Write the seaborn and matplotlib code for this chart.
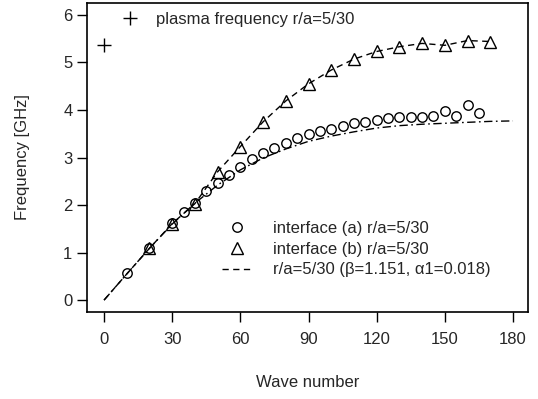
import matplotlib
matplotlib.use("Agg")
import matplotlib.pyplot as plt
import seaborn as sns
import numpy as np

# ---- data ----
wave_a = [10, 20, 30, 35, 40, 45, 50, 55, 60, 65, 70, 75, 80, 85, 90, 95, 100,
          105, 110, 115, 120, 125, 130, 135, 140, 145, 150, 155, 160, 165]
freq_a = [0.56, 1.10, 1.62, 1.85, 2.05, 2.30, 2.47, 2.63, 2.81, 2.96, 3.10, 3.21,
          3.31, 3.40, 3.49, 3.56, 3.61, 3.66, 3.72, 3.75, 3.79, 3.84, 3.85, 3.86,
          3.86, 3.87, 3.97, 3.88, 4.10, 3.94]

wave_b = [20, 30, 40, 50, 60, 70, 80, 90, 100, 110, 120, 130, 140, 150, 160, 170]
freq_b = [1.09, 1.61, 2.03, 2.70, 3.23, 3.75, 4.19, 4.55, 4.84, 5.07, 5.23, 5.33,
          5.40, 5.36, 5.46, 5.44]

fit_b_wave = [0, 10, 20, 30, 40, 50, 60, 70, 80, 90, 100, 110, 120, 130, 140, 150, 160, 170]
fit_b_freq = [0.0, 0.55, 1.09, 1.61, 2.03, 2.70, 3.23, 3.75, 4.19, 4.55, 4.84, 5.07,
              5.23, 5.33, 5.40, 5.36, 5.46, 5.44]

fit_a_wave = [0, 10, 20, 30, 40, 50, 60, 70, 80, 90, 100, 110, 120, 130, 140, 150, 160, 170, 180]
fit_a_freq = [0.0, 0.55, 1.09, 1.60, 2.04, 2.42, 2.74, 2.99, 3.18, 3.34, 3.45, 3.54,
              3.62, 3.67, 3.70, 3.72, 3.74, 3.76, 3.77]

plasma_wave = [0]
plasma_freq = [5.37]

x_ticks = [0, 30, 60, 90, 120, 150, 180]
y_ticks = [0, 1, 2, 3, 4, 5, 6]

lab_plasma = "plasma frequency r/a=5/30"
lab_a = "interface (a) r/a=5/30"
lab_b = "interface (b) r/a=5/30"
lab_fit = "r/a=5/30 (\u03b2=1.151, \u03b11=0.018)"

# ---- style ----
sns.set_style("ticks")
plt.rcParams["font.family"] = ["Liberation Sans", "DejaVu Sans"]
plt.rcParams["font.size"] = 12

fig = plt.figure(figsize=(5.38, 3.99), dpi=100)
ax = fig.add_axes([87 / 538, 87 / 399, 441 / 538, 309 / 399])

# lines
sns.lineplot(x=fit_a_wave, y=fit_a_freq, ax=ax, color="black", linewidth=1.0,
             errorbar=None)
ax.lines[-1].set_dashes([6, 2.5, 1.2, 2.5])
sns.lineplot(x=fit_b_wave, y=fit_b_freq, ax=ax, color="black", linewidth=1.0,
             errorbar=None, label=lab_fit)
fit_line = ax.lines[-1]
fit_line.set_dashes([4.5, 3.2])

# markers
sns.lineplot(x=wave_a, y=freq_a, ax=ax, color="black", linestyle="none",
             marker="o", markersize=6.8, markerfacecolor="none",
             markeredgecolor="black", markeredgewidth=1.0, errorbar=None,
             label=lab_a)
h_a = ax.lines[-1]
sns.lineplot(x=wave_b, y=freq_b, ax=ax, color="black", linestyle="none",
             marker="^", markersize=8.5, markerfacecolor="none",
             markeredgecolor="black", markeredgewidth=1.0, errorbar=None,
             label=lab_b)
h_b = ax.lines[-1]
sns.lineplot(x=plasma_wave, y=plasma_freq, ax=ax, color="black", linestyle="none",
             marker="+", markersize=10, markeredgecolor="black",
             markeredgewidth=1.0, errorbar=None, label=lab_plasma)
h_p = ax.lines[-1]

# axes
ax.set_xlim(-7.5, 186.6)
ax.set_ylim(-0.25, 6.25)
ax.set_xticks(x_ticks)
ax.set_yticks(y_ticks)
for s in ax.spines.values():
    s.set_visible(True)
    s.set_linewidth(1.2)
    s.set_color("black")
ax.tick_params(direction="out", length=7.5, width=1.0, color="black",
               labelsize=12, pad=3)
ax.tick_params(axis="x", pad=7)
ax.set_xlabel("Wave number", fontsize=12, labelpad=20)
ax.set_ylabel("Frequency [GHz]", fontsize=12, labelpad=24)

# legends
leg1 = ax.legend(handles=[h_p], labels=[lab_plasma], loc="upper left",
                 bbox_to_anchor=(0.063, 0.97), frameon=False, borderpad=0,
                 borderaxespad=0, handlelength=1.8, handletextpad=0.7,
                 fontsize=12)
ax.add_artist(leg1)
ax.legend(handles=[h_a, h_b, fit_line], labels=[lab_a, lab_b, lab_fit],
          loc="lower left", bbox_to_anchor=(0.306, 0.112), frameon=False,
          borderpad=0, borderaxespad=0, handlelength=1.8, handletextpad=1.25,
          labelspacing=0.35, fontsize=12)

fig.savefig("out.png", dpi=100)
